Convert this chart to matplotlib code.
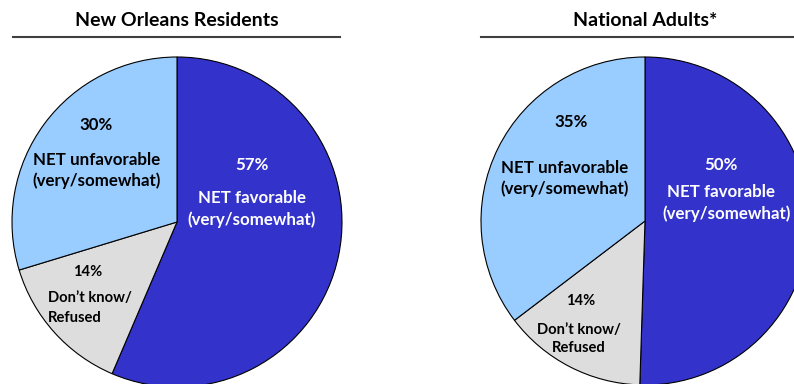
import matplotlib
matplotlib.use("Agg")
import matplotlib.pyplot as plt
from matplotlib.lines import Line2D

# Survey shares (percent)
categories = ["NET favorable", "Don't know/Refused", "NET unfavorable"]
new_orleans = [57, 14, 30]
national = [50, 14, 35]
titles = ["New Orleans Residents", "National Adults*"]
colors = ["#3333CC", "#DDDDDD", "#99CCFF"]

W, H = 794, 384
DPI = 100
plt.rcParams["font.family"] = ["Lato", "DejaVu Sans"]
fig = plt.figure(figsize=(W / DPI, H / DPI), dpi=DPI)


def pie_axes(cx, cy, r):
    """Axes square around a pie centred at pixel (cx, cy) from top-left, radius r px."""
    ax = fig.add_axes([(cx - r) / W, (H - cy - r) / H, 2 * r / W, 2 * r / H])
    ax.set_xlim(-1, 1)
    ax.set_ylim(-1, 1)
    ax.set_aspect("equal")
    ax.axis("off")
    return ax


def px(ax_info, x, y):
    cx, cy, r = ax_info
    return (x - cx) / r, (cy - y) / r


def draw_pie(info, values):
    ax = pie_axes(*info)
    ax.pie(values, colors=colors, startangle=90, counterclock=False, radius=1.0,
           wedgeprops=dict(edgecolor="black", linewidth=0.8))
    ax.set_xlim(-1, 1)
    ax.set_ylim(-1, 1)
    return ax


def label(ax, info, x, y, s, color="black", ha="center", size=12.2):
    tx, ty = px(info, x, y)
    ax.text(tx, ty, s, ha=ha, va="center", color=color, fontsize=size,
            fontweight="bold", clip_on=False)


left = (177, 222, 165)
right = (645, 221, 164)

axl = draw_pie(left, new_orleans)
axr = draw_pie(right, national)

SMALL = 10.6

# Left pie labels
label(axl, left, 96, 125, f"{new_orleans[2]}%")
label(axl, left, 97, 160, "NET unfavorable")
label(axl, left, 97, 181, "(very/somewhat)")
label(axl, left, 252, 165, f"{new_orleans[0]}%", color="white")
label(axl, left, 252, 198, "NET favorable", color="white")
label(axl, left, 252, 220, "(very/somewhat)", color="white")
label(axl, left, 88, 272, f"{new_orleans[1]}%", size=SMALL)
label(axl, left, 48, 298, "Don\u2019t know/", ha="left", size=SMALL)
label(axl, left, 48, 318, "Refused", ha="left", size=SMALL)

# Right pie labels
label(axr, right, 571, 122, f"{national[2]}%")
label(axr, right, 565, 168, "NET unfavorable")
label(axr, right, 565, 189, "(very/somewhat)")
label(axr, right, 721, 165, f"{national[0]}%", color="white")
label(axr, right, 721, 192, "NET favorable", color="white")
label(axr, right, 727, 214, "(very/somewhat)", color="white")
label(axr, right, 581, 301, f"{national[1]}%", size=SMALL)
label(axr, right, 579, 330, "Don\u2019t know/", size=SMALL)
label(axr, right, 579, 348, "Refused", size=SMALL)

# Titles with rules underneath
for title, (tx, x0, x1) in zip(titles, [(177, 13, 340), (645, 481, 794)]):
    fig.text(tx / W, 1 - 20 / H, title, ha="center", va="center",
             fontsize=14, fontweight="bold")
    fig.add_artist(Line2D([x0 / W, x1 / W], [1 - 37 / H, 1 - 37 / H],
                          transform=fig.transFigure, color="#404040", linewidth=1.5))

fig.savefig("out.png", dpi=DPI)
